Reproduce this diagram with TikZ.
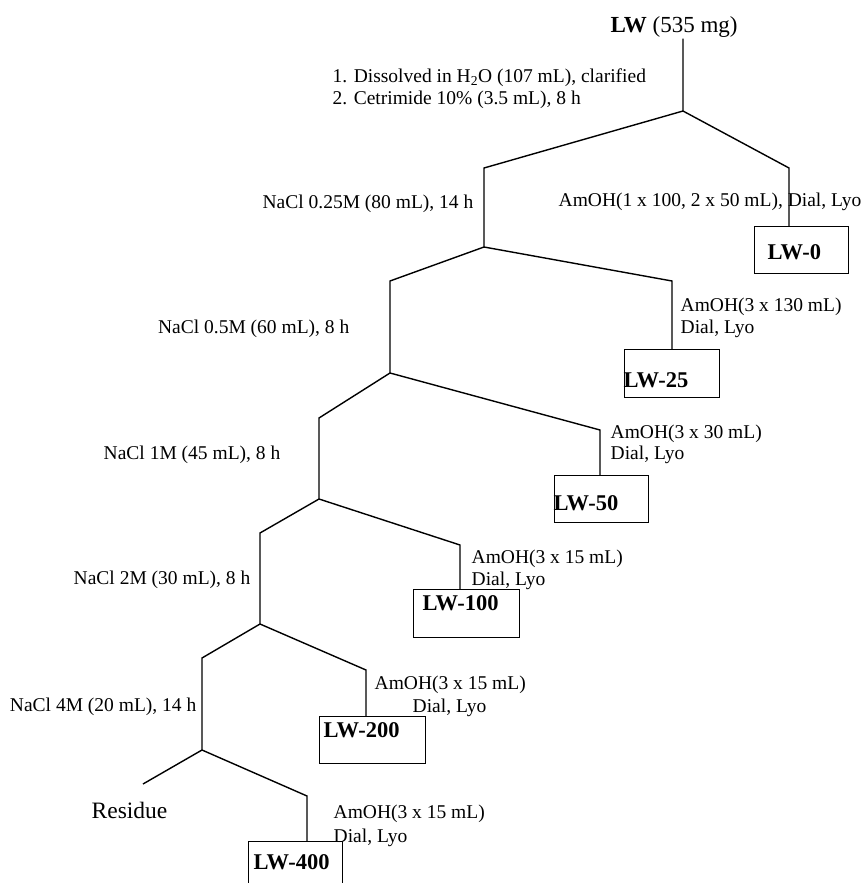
\documentclass[tikz,border=0pt]{standalone}
\usepackage{fontspec}
\setmainfont{Liberation Serif}
\usetikzlibrary{calc,positioning}

\tikzset{
  txt/.style={inner sep=0pt, anchor=base west, font=\fontsize{19.5}{22}\selectfont},
  txtl/.style={inner sep=0pt, anchor=base east, font=\fontsize{19.5}{22}\selectfont},
  lwtxt/.style={inner sep=0pt, anchor=base west, font=\fontsize{22.5}{26}\selectfont\bfseries},
  lwbox/.style={draw, inner sep=0pt, anchor=north west, minimum height=47pt}
}

\begin{document}
\begin{tikzpicture}[x=1pt,y=-1pt,line width=1.4pt]
\useasboundingbox (0,0) rectangle (861,883);

\node [inner sep=0pt, anchor=base west, font=\fontsize{23}{26}\selectfont] (lw) at (610,33) {\textbf{LW} (535 mg)};

\coordinate (s0) at (683,111);
\coordinate (a0L) at (484,168);
\coordinate (a0R) at (789,168);
\coordinate (s1) at (484,247);
\coordinate (a1L) at (390,281);
\coordinate (a1R) at (672,281);
\coordinate (s2) at (390,373);
\coordinate (a2L) at (319,418);
\coordinate (a2R) at (600,430);
\coordinate (s3) at (319,499);
\coordinate (a3L) at (260,533);
\coordinate (a3R) at (460,545);
\coordinate (s4) at (260,624);
\coordinate (a4L) at (202,658);
\coordinate (a4R) at (366,670);
\coordinate (s5) at (202,750);
\coordinate (a5L) at (143,784);
\coordinate (a5R) at (307,796);

% fractions
\node [lwbox, minimum width=94pt] (lw0) at (754,226) {};
\node [lwbox, minimum width=95pt, minimum height=48pt] (lw25) at (624,349) {};
\node [lwbox, minimum width=94pt] (lw50) at (554,475) {};
\node [lwbox, minimum width=106pt, minimum height=48pt] (lw100) at (413,589) {};
\node [lwbox, minimum width=106pt] (lw200) at (319,716) {};
\node [lwbox, minimum width=94pt] (lw400) at (248,841) {};

\node [lwtxt] (lw0t) at (767,259) {LW-0};
\node [lwtxt] (lw25t) at (623,387) {LW-25};
\node [lwtxt] (lw50t) at (553,510) {LW-50};
\node [lwtxt] (lw100t) at (422,610) {LW-100};
\node [lwtxt] (lw200t) at (323,737) {LW-200};
\node [lwtxt] (lw400t) at (253,869) {LW-400};

\draw (lw.south -| s0) -- (s0) -- (a0L) -- (s1) -- (a1L) -- (s2) -- (a2L)
  -- (s3) -- (a3L) -- (s4) -- (a4L) -- (s5) -- (a5L);
\draw (s0) -- (a0R) -- (a0R |- lw0.north);
\draw (s1) -- (a1R) -- (a1R |- lw25.north);
\draw (s2) -- (a2R) -- (a2R |- lw50.north);
\draw (s3) -- (a3R) -- (a3R |- lw100.north);
\draw (s4) -- (a4R) -- (a4R |- lw200.north);
\draw (s5) -- (a5R) -- (a5R |- lw400.north);

\node [txt] (step1) at (332,82) {1. Dissolved in H\textsubscript{2}O (107 mL), clarified};
\node [txt] (step2) at (332,104) {2. Cetrimide 10\% (3.5 mL), 8 h};

\node [txtl] (nacl1) at (474,208.5) {NaCl 0.25M (80 mL), 14 h};
\node [txtl] (nacl2) at (350,333.5) {NaCl 0.5M (60 mL), 8 h};
\node [txtl] (nacl3) at (281,459.5) {NaCl 1M (45 mL), 8 h};
\node [txtl] (nacl4) at (251,584.5) {NaCl 2M (30 mL), 8 h};
\node [txtl] (nacl5) at (197,711.5) {NaCl 4M (20 mL), 14 h};

\node [txt] (amoh0) at (558,206.5) {AmOH(1 x 100, 2 x 50 mL), Dial, Lyo};
\node [txt] (amoh1) at (680,311.5) {AmOH(3 x 130 mL)};
\node [txt] (dial1) at (680,333.5) {Dial, Lyo};
\node [txt] (amoh2) at (610,438.5) {AmOH(3 x 30 mL)};
\node [txt] (dial2) at (610,459.5) {Dial, Lyo};
\node [txt] (amoh3) at (471,563.5) {AmOH(3 x 15 mL)};
\node [txt] (dial3) at (471,585.5) {Dial, Lyo};
\node [txt] (amoh4) at (374,689.5) {AmOH(3 x 15 mL)};
\node [txt] (dial4) at (412,712.5) {Dial, Lyo};
\node [txt] (amoh5) at (333,818.5) {AmOH(3 x 15 mL)};
\node [txt] (dial5) at (333,842.5) {Dial, Lyo};

\node [inner sep=0pt, anchor=base west, font=\fontsize{23.5}{27}\selectfont] (res) at (91,818) {Residue};

\end{tikzpicture}
\end{document}
